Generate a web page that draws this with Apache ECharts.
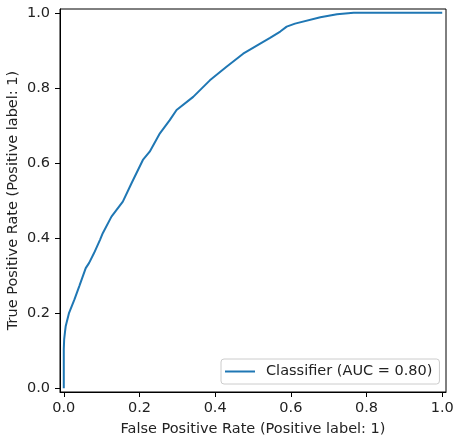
<!DOCTYPE html>
<html>
<head>
<meta charset="utf-8">
<script src="https://cdn.jsdelivr.net/npm/echarts@6/dist/echarts.min.js"></script>
<style>html,body{margin:0;padding:0;background:#fff}#c{width:455px;height:442px}</style>
</head>
<body>
<div id="c"></div>
<script>
const fpr = [0, 0, 0.001, 0.003, 0.005, 0.014, 0.028, 0.041, 0.058, 0.067, 0.080, 0.096, 0.103, 0.126, 0.156, 0.179, 0.209, 0.227, 0.254, 0.280, 0.298, 0.342, 0.386, 0.430, 0.474, 0.519, 0.545, 0.572, 0.589, 0.611, 0.678, 0.722, 0.766, 1.0];
const tpr = [0, 0.104, 0.13, 0.148, 0.165, 0.201, 0.236, 0.272, 0.320, 0.334, 0.360, 0.396, 0.413, 0.457, 0.497, 0.546, 0.608, 0.630, 0.679, 0.714, 0.741, 0.776, 0.820, 0.856, 0.891, 0.918, 0.933, 0.950, 0.963, 0.971, 0.988, 0.996, 1.0, 1.0];
const tickValues = [0, 0.2, 0.4, 0.6, 0.8, 1.0];
const seriesName = 'Classifier (AUC = 0.80)';
const xTitle = 'False Positive Rate (Positive label: 1)';
const yTitle = 'True Positive Rate (Positive label: 1)';

const font = 'DejaVu Sans';
const txt = '#222';
const fs = 14.5;
const chart = echarts.init(document.getElementById('c'), null, {renderer: 'canvas'});
function axisCommon(margin) {
  return {
    type: 'value', min: -0.01, max: 1.01,
    splitLine: {show: false},
    axisLine: {show: true, onZero: false, lineStyle: {color: '#000', width: 1}},
    axisTick: {show: true, inside: false, length: 5, customValues: tickValues, lineStyle: {color: '#000'}},
    axisLabel: {show: true, customValues: tickValues, formatter: v => v.toFixed(1), color: txt, fontFamily: font, fontSize: fs, margin: margin},
    nameLocation: 'middle',
    nameMoveOverlap: false,
    nameTextStyle: {color: txt, fontFamily: font, fontSize: fs}
  };
}
const xAxis = Object.assign(axisCommon(9), {name: xTitle, nameGap: 30});
const yAxis = Object.assign(axisCommon(10), {name: yTitle, nameGap: 39});
chart.setOption({
  animation: false,
  backgroundColor: '#fff',
  grid: {left: 60, right: 9, top: 9, bottom: 50, containLabel: false, outerBoundsMode: 'none', show: true, borderColor: '#000', borderWidth: 1, backgroundColor: 'transparent'},
  xAxis: xAxis,
  yAxis: yAxis,
  legend: {
    show: true, left: 221, top: 359, orient: 'horizontal',
    icon: 'rect', itemWidth: 30, itemHeight: 2, itemGap: 10,
    padding: [4, 7, 4, 4],
    borderColor: '#ccc', borderWidth: 1, borderRadius: 3, backgroundColor: 'rgba(255,255,255,0.8)',
    textStyle: {color: txt, fontFamily: font, fontSize: fs, padding: [0, 0, 0, 6], lineHeight: 17},
    data: [{name: seriesName, icon: 'rect', itemStyle: {color: '#1f77b4'}}]
  },
  series: [{
    name: seriesName, type: 'line', symbol: 'none', showSymbol: false,
    lineStyle: {color: '#1f77b4', width: 2}, itemStyle: {color: '#1f77b4'},
    data: fpr.map((x, i) => [x, tpr[i]])
  }]
});
</script>
</body>
</html>
